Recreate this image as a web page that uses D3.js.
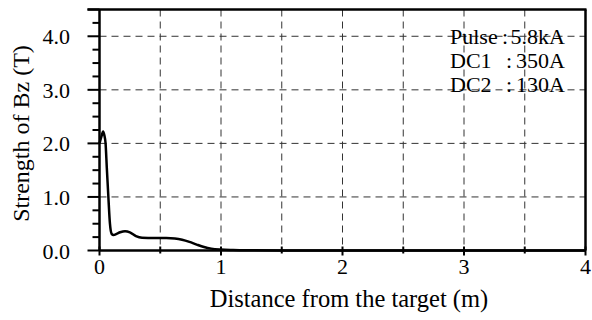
<!DOCTYPE html>
<html>
<head>
<meta charset="utf-8">
<script src="https://cdn.jsdelivr.net/npm/d3@7"></script>
<style>
  body { margin: 0; background: #fff; }
  svg { display: block; }
  text { font-family: "Liberation Serif", "Times New Roman", serif; fill: #000; }
</style>
</head>
<body>
<svg></svg>
<script>
// distance (m) and Bz strength (T)
const distance = [0, 0.015, 0.03, 0.04, 0.05, 0.06, 0.073, 0.086, 0.1, 0.115, 0.14, 0.17, 0.21, 0.25, 0.3, 0.35, 0.45, 0.55, 0.62, 0.68, 0.74, 0.8, 0.86, 0.92, 1.0, 1.1, 1.25, 1.5, 2, 3, 4]
const bz = [2.0, 2.12, 2.22, 2.15, 2.0, 1.55, 1.0, 0.5, 0.31, 0.29, 0.31, 0.34, 0.36, 0.34, 0.27, 0.24, 0.235, 0.235, 0.225, 0.2, 0.16, 0.11, 0.065, 0.035, 0.018, 0.01, 0.005, 0.002, 0.001, 0, 0]

const xTicks = [0, 1, 2, 3, 4]
const xMinor = [0.5, 1.5, 2.5, 3.5]
const yTicks = [0, 1, 2, 3, 4]
const yTickLabels = ['0.0', '1.0', '2.0', '3.0', '4.0']
const legendNames = ['Pulse', 'DC1', 'DC2']
const legendValues = ['5.8kA', '350A', '130A']

const width = 592
const height = 320
const margin = { top: 9.5, right: 6.5, bottom: 69.5, left: 99.5 }

// scales in page coordinates, so every text can sit on the svg itself
const xScale = d3.scaleLinear().domain([0, 4]).range([margin.left, width - margin.right])
const yScale = d3.scaleLinear().domain([0, 4.5]).range([height - margin.bottom, margin.top])
const x0 = xScale(0), x1 = xScale(4)
const y0 = yScale(0), y1 = yScale(4.5)

const svg = d3.select('svg')
    .attr('width', width)
    .attr('height', height)

// dashed grid
svg.selectAll('.vgrid')
    .data(xMinor.concat(xTicks.slice(1, 4)))
    .enter()
    .append('line')
    .attr('x1', d => xScale(d))
    .attr('x2', d => xScale(d))
    .attr('y1', y1)
    .attr('y2', y0)
    .attr('stroke', '#333')
    .attr('stroke-width', 1)
    .attr('stroke-dasharray', '7,5')

svg.selectAll('.hgrid')
    .data(yTicks.slice(1))
    .enter()
    .append('line')
    .attr('x1', x0)
    .attr('x2', x1)
    .attr('y1', d => yScale(d))
    .attr('y2', d => yScale(d))
    .attr('stroke', '#333')
    .attr('stroke-width', 1)
    .attr('stroke-dasharray', '7,5')

// y ticks: long at whole numbers, short every 0.25
svg.selectAll('.yt')
    .data(d3.range(0, 4.51, 0.25))
    .enter()
    .append('line')
    .attr('x1', d => (d % 1 === 0 || d === 4.5) ? x0 - 12 : x0 - 7)
    .attr('x2', x0)
    .attr('y1', d => yScale(d))
    .attr('y2', d => yScale(d))
    .attr('stroke', '#000')
    .attr('stroke-width', 2)

svg.selectAll('.ylab')
    .data(yTicks)
    .enter()
    .append('text')
    .attr('x', x0 - 29.5)
    .attr('y', d => yScale(d) + 8)
    .attr('text-anchor', 'end')
    .style('font-size', '22px')
    .text((d, i) => yTickLabels[i])

// x ticks
svg.selectAll('.xt')
    .data(xTicks)
    .enter()
    .append('line')
    .attr('x1', d => xScale(d))
    .attr('x2', d => xScale(d))
    .attr('y1', y0 - 4)
    .attr('y2', y0 + 5)
    .attr('stroke', '#000')
    .attr('stroke-width', 2)
svg.selectAll('.xm')
    .data(xMinor)
    .enter()
    .append('line')
    .attr('x1', d => xScale(d))
    .attr('x2', d => xScale(d))
    .attr('y1', y0 - 4)
    .attr('y2', y0 + 3)
    .attr('stroke', '#000')
    .attr('stroke-width', 2)
svg.selectAll('.xlab')
    .data(xTicks)
    .enter()
    .append('text')
    .attr('x', d => xScale(d))
    .attr('y', y0 + 23)
    .attr('text-anchor', 'middle')
    .style('font-size', '22px')
    .text(d => d)

// frame
svg.append('line').attr('x1', x0).attr('x2', x1).attr('y1', y0).attr('y2', y0)
    .attr('stroke', '#000').attr('stroke-width', 2.5)
svg.append('line').attr('x1', x0).attr('x2', x0).attr('y1', y1).attr('y2', y0)
    .attr('stroke', '#000').attr('stroke-width', 2.5)
svg.append('line').attr('x1', x0 - 12).attr('x2', x1 + 1).attr('y1', y1).attr('y2', y1)
    .attr('stroke', '#000').attr('stroke-width', 2.5)
svg.append('line').attr('x1', x1).attr('x2', x1).attr('y1', y1).attr('y2', y0)
    .attr('stroke', '#000').attr('stroke-width', 2.5)

// curve
const line = d3.line()
    .x((d, i) => xScale(distance[i]))
    .y(d => yScale(d))
    .curve(d3.curveMonotoneX)

svg.append('path')
    .datum(bz)
    .attr('fill', 'none')
    .attr('stroke', '#000')
    .attr('stroke-width', 2.5)
    .attr('d', line)

// legend text: name, colon, value
const legendY = (d, i) => 43.5 + i * 24
svg.selectAll('.ln')
    .data(legendNames)
    .enter()
    .append('text')
    .attr('x', 450)
    .attr('y', legendY)
    .style('font-size', '22px')
    .text(d => d)
svg.selectAll('.lc')
    .data(legendNames)
    .enter()
    .append('text')
    .attr('x', (d, i) => i === 0 ? 502 : 506)
    .attr('y', legendY)
    .style('font-size', '22px')
    .text(':')
svg.selectAll('.lv')
    .data(legendValues)
    .enter()
    .append('text')
    .attr('x', 565)
    .attr('y', legendY)
    .attr('text-anchor', 'end')
    .style('font-size', '22px')
    .text(d => d)

// axis titles
svg.append('text')
    .attr('x', 349)
    .attr('y', 307)
    .attr('text-anchor', 'middle')
    .style('font-size', '24.5px')
    .text('Distance from the target (m)')

svg.append('text')
    .attr('transform', 'translate(29,133.5) rotate(-90)')
    .attr('text-anchor', 'middle')
    .style('font-size', '24px')
    .text('Strength of Bz (T)')
</script>
</body>
</html>
